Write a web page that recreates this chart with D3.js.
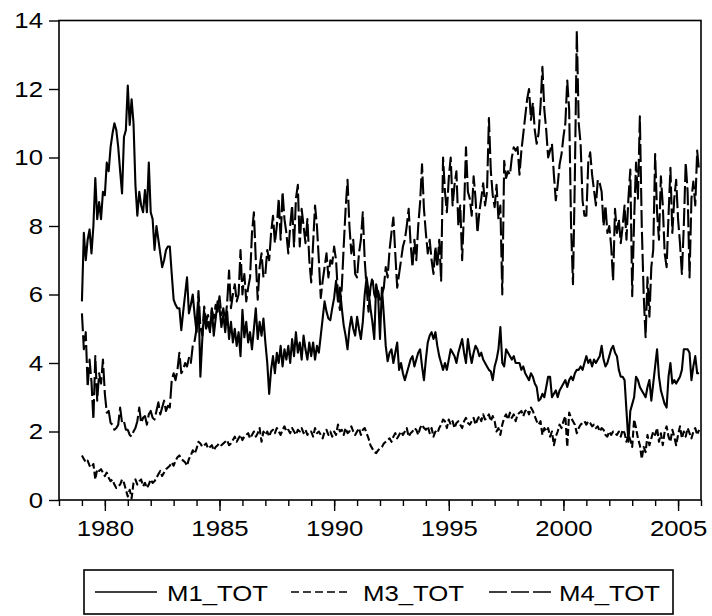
<!DOCTYPE html>
<html><head><meta charset="utf-8">
<script src="https://cdn.jsdelivr.net/npm/d3@7"></script>
<style>body{margin:0;background:#fff}svg{display:block}text{font-family:"Liberation Sans",Arial,sans-serif;fill:#000}</style>
</head><body><div id="c"></div>
<script>
const startYear = 1979;
const seriesNames = ["M1_TOT","M3_TOT","M4_TOT"];
const yTicks = [0,2,4,6,8,10,12,14];
const xMajor = [1980,1985,1990,1995,2000,2005];
const xLabels = ["1980","1985","1990","1995","2000","2005"];

const m1 = [
5.8,7.8,7.0,7.6,7.9,7.2,8.0,9.4,8.2,8.7,8.2,9.0,
8.9,9.85,9.6,10.3,10.7,11.0,10.8,10.3,9.6,8.95,10.6,10.8,
12.1,10.95,11.7,11.0,9.2,8.3,9.0,8.6,8.4,9.05,8.4,9.85,
8.4,8.2,7.3,8.0,7.6,7.2,6.8,7.0,7.3,7.4,7.4,6.6,
5.85,5.7,5.6,5.6,4.96,5.5,6.0,6.5,5.45,5.7,6.0,5.4,
4.9,5.9,3.6,4.7,5.5,5.0,5.2,4.9,5.6,4.8,5.3,5.8,
5.6,5.05,5.4,4.9,5.5,4.7,5.2,4.6,5.0,4.5,4.9,4.2,
5.55,4.75,5.2,4.6,4.9,4.4,5.0,5.6,4.7,5.2,4.8,5.3,
4.6,4.0,3.1,3.8,4.2,3.7,4.3,4.0,4.5,3.9,4.4,4.1,
4.5,4.0,4.7,4.2,4.9,4.3,4.6,4.1,4.8,4.4,4.1,4.6,
4.2,4.6,4.1,4.5,4.3,4.8,5.3,5.8,5.5,5.3,5.25,5.6,
5.9,6.4,5.8,6.2,5.6,5.1,4.8,4.4,5.0,5.35,5.0,4.8,
5.35,5.0,4.7,5.2,6.0,6.5,6.1,5.6,5.2,4.7,6.3,6.0,
4.7,6.2,5.4,4.5,4.05,4.3,4.4,4.0,4.3,4.6,3.8,4.0,
3.7,3.5,3.7,3.9,4.1,4.2,3.9,4.1,4.3,4.4,3.9,3.5,
4.1,4.6,4.8,4.9,4.7,4.9,4.5,4.2,4.0,3.8,4.0,3.8,
4.1,4.4,4.3,4.2,4.0,4.3,4.5,4.7,4.3,4.0,4.7,4.3,
4.0,4.3,4.5,4.4,4.2,4.3,4.1,4.0,3.9,3.8,3.75,3.5,
3.9,4.1,4.4,5.05,4.0,3.9,4.4,4.3,4.2,4.1,4.2,4.0,
4.0,4.0,3.8,3.9,3.7,3.6,3.5,3.7,3.6,3.4,3.3,2.9,
2.95,3.1,3.0,3.3,3.6,3.6,3.0,3.1,3.2,3.0,3.2,3.3,
3.4,3.5,3.3,3.5,3.6,3.5,3.7,3.8,3.8,3.9,3.8,4.0,
4.2,4.0,4.1,3.9,4.1,4.0,4.1,4.2,4.5,4.1,3.9,4.0,
4.2,4.4,4.5,4.3,4.2,3.8,3.6,3.6,3.5,2.6,1.7,2.6,
2.8,3.0,3.6,3.5,3.3,3.2,3.1,3.0,3.3,3.5,2.9,3.4,
3.9,4.4,3.6,3.2,3.0,2.8,2.7,3.6,4.0,3.4,3.5,3.4,
3.5,3.6,3.8,4.4,4.4,4.4,4.3,3.5,3.9,4.2,3.7,3.7];

const m3 = [
1.3,1.2,1.1,1.15,1.0,0.95,1.05,0.6,0.9,0.85,0.9,0.8,
0.7,0.8,0.65,0.55,0.6,0.45,0.35,0.4,0.45,0.6,0.5,0.3,
0.1,0.3,0.05,0.5,0.6,0.45,0.55,0.6,0.4,0.5,0.35,0.45,
0.6,0.5,0.55,0.65,0.75,0.85,0.7,0.8,0.9,0.95,1.0,1.1,
1.0,1.15,1.25,1.3,1.2,1.15,1.1,1.0,1.2,1.3,1.45,1.35,
1.5,1.7,1.65,1.55,1.6,1.65,1.5,1.55,1.6,1.45,1.55,1.6,
1.66,1.6,1.65,1.7,1.75,1.6,1.65,1.75,1.85,1.7,1.8,1.9,
1.75,1.85,1.9,1.95,1.8,1.9,2.0,1.85,1.95,2.1,1.7,2.0,
1.9,2.0,1.85,2.0,2.05,1.95,2.1,2.0,1.9,2.05,2.15,2.0,
2.05,1.95,2.1,2.0,1.9,2.05,2.0,2.1,1.95,2.05,1.9,2.0,
2.0,1.85,2.1,1.95,2.0,1.9,1.8,2.0,2.05,1.9,2.0,1.85,
2.0,1.9,2.2,2.0,2.05,1.9,2.1,1.95,2.0,2.15,2.0,1.9,
2.0,2.1,1.9,2.05,2.1,1.95,1.8,1.6,1.5,1.4,1.37,1.45,
1.5,1.55,1.65,1.7,1.75,1.8,1.7,1.85,1.95,1.8,1.9,2.0,
1.9,2.0,2.1,1.85,1.95,2.0,2.1,2.05,1.9,2.1,2.2,2.1,
2.05,2.15,1.95,2.1,1.85,2.0,1.95,2.1,2.2,2.35,2.3,2.1,
2.35,2.2,2.3,2.1,2.25,2.3,2.2,2.1,2.3,2.4,2.25,2.2,
2.3,2.4,2.2,2.35,2.45,2.3,2.5,2.35,2.4,2.5,2.3,2.45,
2.3,2.0,2.1,1.9,2.2,2.4,2.5,2.35,2.55,2.4,2.5,2.3,
2.5,2.55,2.6,2.45,2.6,2.65,2.5,2.7,2.6,2.45,2.3,2.2,
2.3,1.9,2.1,2.0,2.1,1.85,2.0,1.6,1.85,2.0,2.2,2.1,
2.3,2.45,1.55,2.55,2.4,2.3,2.2,1.95,2.1,2.2,2.25,2.3,
2.2,2.3,2.25,2.15,2.2,2.1,2.15,2.0,2.1,2.05,1.9,1.85,
2.0,1.9,2.0,1.95,1.9,2.0,1.85,2.05,1.95,1.7,1.9,1.75,
1.55,2.35,2.1,1.8,1.6,1.2,1.55,1.4,1.9,1.6,1.8,2.0,
1.9,2.1,1.7,1.95,1.6,2.0,2.15,1.85,1.7,2.05,1.85,1.6,
1.9,2.15,1.8,2.0,1.85,2.1,1.95,1.8,2.0,2.1,1.9,2.05];

const m4 = [
5.45,4.4,4.9,3.3,4.1,3.45,2.35,4.2,2.9,3.7,3.4,4.1,
3.1,2.55,2.6,2.25,2.2,2.05,2.1,2.2,2.7,2.25,2.3,2.05,
2.05,1.9,1.85,2.0,2.1,2.3,2.7,2.25,2.4,2.45,2.2,2.5,
2.6,2.4,2.35,2.6,2.85,2.5,2.7,2.9,2.6,2.75,2.7,3.5,
3.7,3.5,3.8,4.3,3.7,3.8,4.0,3.9,4.15,4.0,4.5,4.65,
5.0,6.1,5.05,4.8,5.65,5.2,5.4,5.0,5.55,5.3,5.7,5.5,
5.95,5.4,5.6,5.2,5.75,6.7,5.6,6.0,6.3,5.8,6.0,7.3,
6.0,6.6,5.8,6.2,6.5,7.8,8.4,7.0,5.85,6.8,7.2,6.5,
6.6,7.3,7.0,7.8,8.3,7.5,8.0,8.8,7.6,9.0,8.2,7.8,
7.2,8.0,8.6,7.4,8.8,9.2,7.4,8.5,8.0,7.5,8.2,7.0,
6.35,7.5,8.6,8.0,7.0,5.9,6.4,6.8,7.2,6.5,7.0,6.9,
7.4,7.0,6.0,5.55,6.2,7.4,8.5,9.35,8.0,7.2,7.6,6.6,
6.5,7.2,7.6,8.4,7.0,6.2,5.5,6.2,6.5,6.0,5.85,6.1,
5.85,6.0,6.2,6.8,6.5,7.3,7.8,8.25,7.2,6.2,6.6,7.0,
7.4,7.6,8.0,8.5,7.5,6.8,7.6,7.0,8.0,8.7,9.8,8.5,
7.8,7.2,7.6,7.0,6.6,7.4,6.8,7.6,6.4,10.0,9.0,8.4,
9.4,10.0,8.6,9.2,9.6,8.0,8.6,7.0,8.5,10.3,9.0,8.8,
8.3,9.45,8.8,7.8,8.4,8.8,9.25,8.6,9.0,11.15,9.6,8.9,
8.55,9.2,8.2,8.6,6.0,9.9,9.4,9.6,9.5,10.0,10.3,10.2,
10.3,9.5,10.2,10.7,11.2,11.7,12.0,11.1,11.6,10.8,10.4,10.7,
11.5,12.65,11.4,10.8,10.0,10.2,10.4,9.5,8.75,9.2,9.8,10.1,
10.6,11.0,12.25,11.4,8.0,6.3,9.5,13.7,11.0,10.4,8.75,8.3,
8.3,9.85,10.15,9.5,9.05,8.6,9.35,9.25,9.0,8.0,8.6,7.8,
8.0,7.4,6.4,8.5,7.8,8.2,7.5,8.0,8.6,7.6,8.8,9.65,
5.95,8.2,9.85,8.8,11.2,8.0,6.0,4.75,6.5,5.35,6.8,7.3,
10.1,8.4,7.6,9.45,8.6,7.2,6.8,8.3,9.7,7.8,8.8,9.35,
8.2,7.5,6.6,8.0,9.85,9.0,6.5,8.8,9.3,8.6,10.2,9.6];

const W = 712, H = 616;
const STRETCH = 1.12;
const FS = "23px";
const svg = d3.select("#c").append("svg").attr("width", W).attr("height", H);

const x = d3.scaleLinear().domain([1978, 2006]).range([59, 701]);
const y = d3.scaleLinear().domain([0, 14]).range([500, 20.5]);

function stretchText(sel){
  sel.selectAll("text").each(function(){
    const t = d3.select(this);
    const tx = +t.attr("x") || 0;
    t.attr("x", 0).attr("transform", `translate(${tx},0) scale(${STRETCH},1)`);
  });
}

// y axis
const gy = svg.append("g").attr("transform", "translate(59,0)")
  .call(d3.axisLeft(y).tickValues(yTicks).tickSize(10).tickPadding(6).tickFormat(d3.format("d")));
gy.select(".domain").remove();
gy.selectAll("line").attr("stroke", "#000").attr("stroke-width", 1.4);
gy.selectAll("text").style("font-size", FS);
stretchText(gy);

// x axis minor
const gxm = svg.append("g").attr("transform", "translate(0,500)")
  .call(d3.axisBottom(x).tickValues(d3.range(1978, 2007)).tickSize(6).tickFormat(""));
gxm.select(".domain").remove();
gxm.selectAll("line").attr("stroke", "#000").attr("stroke-width", 1.4);

// x axis major
const gx = svg.append("g").attr("transform", "translate(0,500)")
  .call(d3.axisBottom(x).tickValues(xMajor).tickSize(11).tickPadding(9).tickFormat((d,i) => xLabels[i]));
gx.select(".domain").remove();
gx.selectAll("line").attr("stroke", "#000").attr("stroke-width", 1.4);
gx.selectAll("text").style("font-size", FS);
stretchText(gx);

// lines
const dates = m1.map((_, i) => startYear + i / 12);
const line = d3.line().x((d, i) => x(dates[i])).y(d => y(d));
const styles = [
  {data: m1, dash: null, legDash: null},
  {data: m3, dash: "7,3", legDash: "8,4"},
  {data: m4, dash: "18,4", legDash: "18,4"}
];
styles.forEach(s => {
  svg.append("path").datum(s.data).attr("d", line)
    .attr("fill", "none").attr("stroke", "#000").attr("stroke-width", 2.1)
    .attr("stroke-linejoin", "round")
    .attr("stroke-dasharray", s.dash);
});

// frame
svg.append("rect").attr("x", 59).attr("y", 20.5).attr("width", 642).attr("height", 479.5)
  .attr("fill", "none").attr("stroke", "#000").attr("stroke-width", 1.6);

// legend
const lg = svg.append("g");
lg.append("rect").attr("x", 84).attr("y", 570).attr("width", 589).attr("height", 44)
  .attr("fill", "none").attr("stroke", "#000").attr("stroke-width", 1.6);
const legX = [95, 291, 489];
const legLen = [62, 56, 62];
seriesNames.forEach((n, i) => {
  lg.append("line").attr("x1", legX[i]).attr("x2", legX[i] + legLen[i]).attr("y1", 592).attr("y2", 592)
    .attr("stroke", "#000").attr("stroke-width", 1.6).attr("stroke-dasharray", styles[i].legDash);
  lg.append("text").attr("transform", `translate(${[167, 363, 559][i]},600.5) scale(${STRETCH},1)`)
    .style("font-size", FS).text(n);
});
</script></body></html>
